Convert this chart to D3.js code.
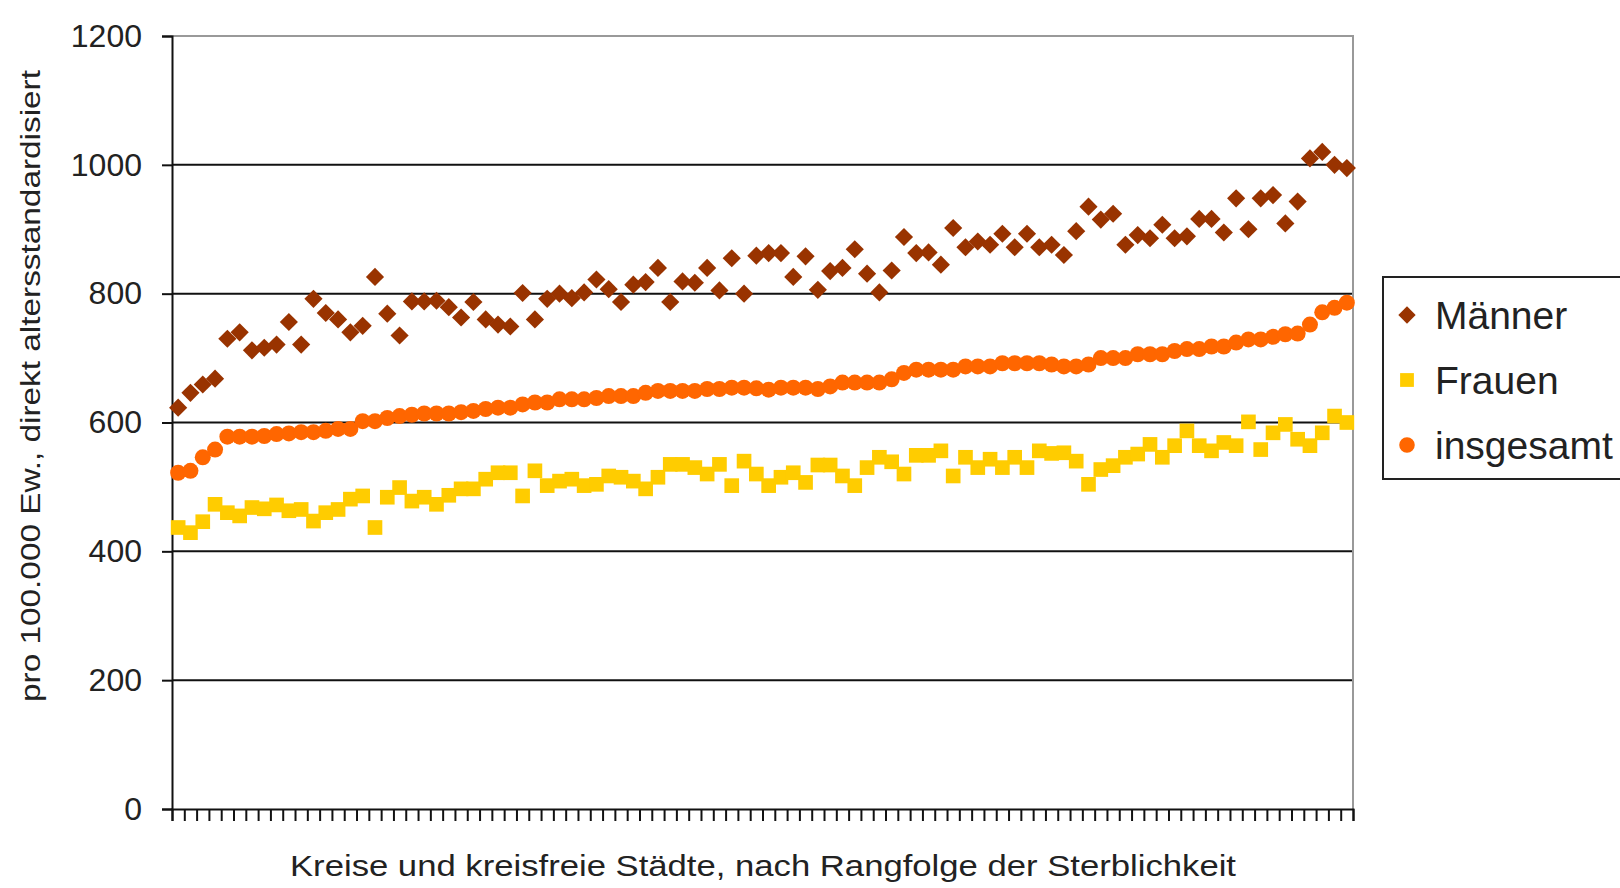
<!DOCTYPE html>
<html>
<meta charset="utf-8">
<style>
  body { margin: 0; background: #fff; }
  svg { font-family: "Liberation Sans", Arial, sans-serif; }
</style>

<body>
  <svg></svg>
</body>

<script src="https://d3js.org/d3.v7.min.js"></script>

<script>

  // values per Kreis, sorted by rank of overall mortality (96 Kreise)
  var maenner = [
    623, 646, 659, 668, 730, 740, 712, 716, 721, 756, 721, 792, 770, 760, 740, 750,
    826, 769, 735, 788, 788, 789, 779, 763, 787, 760, 752, 749, 801, 760, 792, 800,
    793, 802, 822, 807, 787, 814, 818, 840, 787, 819, 817, 840, 805, 855, 800, 859,
    863, 863, 826, 858, 806, 835, 840, 869, 831, 802, 836, 888, 863, 864, 845, 902,
    872, 881, 876, 893, 872, 893, 872, 876, 860, 897, 935, 915, 924, 876, 891, 886,
    907, 886, 889, 916, 916, 895, 948, 900, 948, 953, 909, 943, 1010, 1020, 1000, 995
  ];
  var frauen = [
    437, 429, 446, 473, 460, 455, 468, 466, 472, 463, 465, 447, 460, 465, 481, 486,
    437, 484, 499, 478, 484, 473, 487, 497, 497, 512, 522, 522, 486, 525, 502, 509,
    512, 502, 504, 517, 515, 509, 497, 515, 535, 535, 530, 520, 535, 502, 540, 520,
    502, 515, 522, 507, 534, 534, 517, 502, 530, 546, 539, 520, 549, 549, 556, 517,
    546, 530, 543, 530, 546, 530, 556, 552, 553, 540, 504, 527, 533, 546, 551, 566,
    546, 564, 587, 564, 556, 569, 564, 601, 558, 584, 597, 574, 564, 584, 610, 600
  ];
  var insgesamt = [
    522, 525, 546, 558, 578, 578, 578, 579, 582, 583, 585, 585, 587, 590, 590, 602,
    602, 607, 610, 612, 614, 614, 614, 616, 618, 621, 623, 623, 628, 631, 631, 636,
    636, 636, 638, 641, 641, 641, 646, 649, 649, 649, 649, 652, 652, 654, 654, 653,
    651, 654, 654, 654, 652, 656, 662, 662, 662, 662, 667, 677, 682, 682, 682, 682,
    687, 687, 687, 692, 692, 692, 692, 690, 687, 687, 690, 700, 700, 700, 706, 706,
    706, 711, 714, 714, 718, 718, 724, 729, 729, 733, 737, 738, 752, 771, 778, 786
  ];
  var yTicks = [0, 200, 400, 600, 800, 1000, 1200];
  var seriesNames = ["Männer", "Frauen", "insgesamt"];
  var seriesColors = ["#993300", "#ffcc00", "#ff6600"];

  var W = 1620, H = 888;
  var margin = { top: 36, right: 267, bottom: 79, left: 172 };
  var width = W - margin.left - margin.right;
  var height = H - margin.top - margin.bottom;

  var svg = d3.select("svg")
    .attr("width", W)
    .attr("height", H);

  var g = svg.append("g")
    .attr("transform", "translate(" + margin.left + "," + margin.top + ")");

  var n = insgesamt.length;

  // category axis: tick marks sit between the categories
  var x = d3.scaleLinear()
    .domain([0, n])
    .range([0, width]);

  var y = d3.scaleLinear()
    .domain([0, 1200])
    .range([height, 0]);

  // gridlines
  g.selectAll("line.grid")
    .data(yTicks.filter(d => d > 0 && d < 1200))
    .enter().append("line")
    .attr("class", "grid")
    .attr("x1", 0).attr("x2", width)
    .attr("y1", d => y(d)).attr("y2", d => y(d))
    .attr("stroke", "#111")
    .attr("stroke-width", 2);

  // plot area border (top + right)
  g.append("path")
    .attr("d", "M0," + y(1200) + "H" + width + "V" + height)
    .attr("fill", "none")
    .attr("stroke", "#999")
    .attr("stroke-width", 2);

  // y axis
  var yAxis = g.append("g")
    .call(d3.axisLeft(y).tickValues(yTicks).tickFormat(d3.format("d")).tickSize(10).tickPadding(20));
  yAxis.select(".domain").attr("stroke", "#111").attr("stroke-width", 2);
  yAxis.selectAll(".tick line").attr("stroke", "#111").attr("stroke-width", 2);
  yAxis.selectAll(".tick text")
    .attr("font-size", 32)
    .attr("fill", "#222")
    .attr("font-family", "Liberation Sans, Arial, sans-serif");

  // x axis
  var xAxis = g.append("g")
    .attr("transform", "translate(0," + height + ")")
    .call(d3.axisBottom(x).tickValues(d3.range(n + 1)).tickSize(12).tickFormat(""));
  xAxis.select(".domain").attr("stroke", "#111").attr("stroke-width", 2);
  xAxis.selectAll(".tick line").attr("stroke", "#111").attr("stroke-width", 2);

  // markers
  var diamond = d3.symbol().type(d3.symbolSquare).size(165);
  var square = d3.symbol().type(d3.symbolSquare).size(215);

  g.append("g").selectAll("path")
    .data(maenner)
    .enter().append("path")
    .attr("d", diamond)
    .attr("transform", (d, i) => "translate(" + x(i + 0.5) + "," + y(d) + ") rotate(45)")
    .attr("fill", seriesColors[0]);

  g.append("g").selectAll("path")
    .data(frauen)
    .enter().append("path")
    .attr("d", square)
    .attr("transform", (d, i) => "translate(" + x(i + 0.5) + "," + y(d) + ")")
    .attr("fill", seriesColors[1]);

  g.append("g").selectAll("circle")
    .data(insgesamt)
    .enter().append("circle")
    .attr("cx", (d, i) => x(i + 0.5))
    .attr("cy", d => y(d))
    .attr("r", 8)
    .attr("fill", seriesColors[2]);

  // axis titles
  svg.append("text")
    .attr("transform", "translate(40,386) rotate(-90)")
    .attr("text-anchor", "middle")
    .attr("font-size", 27)
    .attr("fill", "#222")
    .attr("textLength", 632)
    .attr("lengthAdjust", "spacingAndGlyphs")
    .text("pro 100.000 Ew., direkt altersstandardisiert");

  svg.append("text")
    .attr("x", 763)
    .attr("y", 876)
    .attr("text-anchor", "middle")
    .attr("font-size", 30)
    .attr("fill", "#222")
    .attr("textLength", 946)
    .attr("lengthAdjust", "spacingAndGlyphs")
    .text("Kreise und kreisfreie Städte, nach Rangfolge der Sterblichkeit");

  // legend
  var legend = svg.append("g").attr("transform", "translate(1383,277)");
  legend.append("rect")
    .attr("width", 260)
    .attr("height", 202)
    .attr("fill", "#fff")
    .attr("stroke", "#222")
    .attr("stroke-width", 2);

  var items = legend.selectAll("g.item")
    .data(seriesNames)
    .enter().append("g")
    .attr("class", "item")
    .attr("transform", (d, i) => "translate(24," + (38 + i * 65) + ")");

  items.append("path")
    .attr("d", (d, i) => i === 0 ? d3.symbol().type(d3.symbolSquare).size(150)() :
      i === 1 ? d3.symbol().type(d3.symbolSquare).size(190)() : d3.symbol().type(d3.symbolCircle).size(190)())
    .attr("transform", (d, i) => i === 0 ? "rotate(45)" : null)
    .attr("fill", (d, i) => seriesColors[i]);

  items.append("text")
    .attr("x", 28)
    .attr("dy", "0.36em")
    .attr("font-size", 39)
    .attr("fill", "#222")
    .text(d => d);

</script>

</html>
